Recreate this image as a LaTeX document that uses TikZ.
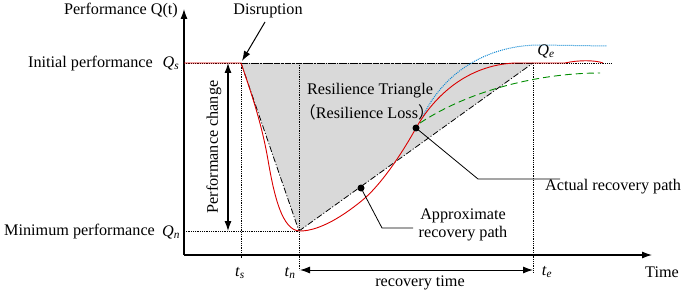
\documentclass[tikz,border=0pt]{standalone}
\usepackage{fontspec}
\setmainfont{Liberation Serif}
\newfontfamily\cjk{Noto Sans CJK SC}
\usetikzlibrary{arrows.meta}
\newcommand{\qlab}[2]{\textit{#1}\textsubscript{\textit{#2}}}
\begin{document}
\begin{tikzpicture}[x=1pt,y=-1pt,
  every node/.style={font=\fontsize{16.2}{18.5}\selectfont, inner sep=1pt},
  bigtip/.style={-{Latex[length=10pt,width=7pt]}},
  axisline/.style={line width=1.1pt, bigtip},
  dotline/.style={densely dotted, line width=0.8pt},
  dashdot/.style={line width=0.8pt, dash pattern=on 6pt off 2pt on 1pt off 2pt},
  redcurve/.style={line width=0.9pt, color=red!85!black},
  leader/.style={line width=0.8pt},
  dotmark/.style={circle, fill=black, inner sep=0pt, minimum size=7pt}
]
\useasboundingbox (0,0) rectangle (685,294);
% key coordinates
\coordinate (O) at (184,255);
\coordinate (ytop) at (184,9);
\coordinate (xend) at (652,255);
\coordinate (S) at (241,63);
\coordinate (N) at (299,231);
\coordinate (E) at (533,63);
\coordinate (QsL) at (184,63);
\coordinate (QsR) at (612,63);
\coordinate (QnL) at (184,231);
% triangle
\fill[gray!30] (S) -- (N) -- (E) -- cycle;
% guide lines
\draw[dotline] (QsL) -- (QsR);
\draw[dotline] (QnL) -- (N);
\draw[dotline] (S) -- (241,258);
\draw[dotline] (299,63) -- (299,270);
\draw[dotline] (E) -- (533,272);
\draw[dashdot] (S) -- (E);
\draw[dashdot] (S) -- (N);
\draw[dashdot] (N) -- (E);
% axes
\draw[line width=1.1pt] (ytop |- O) -- (O);
\draw[axisline] (O) -- (ytop);
\draw[axisline] (O) -- (xend);
% curves
\draw[color=cyan!70!blue, densely dotted, line width=1pt] (423,116) .. controls (445,70) and (490,45) .. (540,45) -- (607,46);
\draw[color=green!55!black, dash pattern=on 7pt off 4pt, line width=0.9pt] (420,123) .. controls (470,90) and (540,73) .. (600,73);
\draw[redcurve] (QsL) -- (S) .. controls (252,95) and (262,125) .. (268,160) .. controls (274,195) and (282,231) .. (300,231) .. controls (320,231) and (345,215) .. (365,198) .. controls (385,180) and (405,148) .. (416,128) .. controls (435,95) and (468,65) .. (515,63) -- (565,63) .. controls (578,60) and (595,60) .. (603,63);
% dots and leaders
\node[dotmark] (actdot) at (416,128) {};
\node[dotmark] (appdot) at (361,188) {};
\coordinate (actk) at (478,179);
\coordinate (actend) at (560,179);
\coordinate (appk) at (382,228);
\coordinate (append) at (413,228);
\draw[leader] (actdot.center) -- (actk) -- (actend);
\draw[leader] (appdot.center) -- (appk) -- (append);
% arrows
\coordinate (pcTop) at (228,63);
\coordinate (pcBot) at (228,231);
\draw[line width=1.1pt, {Latex[length=10pt,width=7pt]}-{Latex[length=10pt,width=7pt]}] (pcBot) -- (pcTop);
\coordinate (disA) at (265,22);
\draw[line width=1pt, bigtip] (disA) -- (242,61);
\coordinate (rtL) at (300,270);
\coordinate (rtR) at (533,270);
\draw[line width=1pt, {Latex[length=10pt,width=7pt]}-{Latex[length=10pt,width=7pt]}] (rtL) -- (rtR);
% labels
\node[anchor=east] (perfq) at (179,11) {Performance Q(t)};
\node (disr) at (268,11) {Disruption};
\node[anchor=east] (initp) at (154,64) {Initial performance};
\node (qs) at (171,63) {\qlab{Q}{s}};
\node[anchor=west] (minp) at (3,232) {Minimum performance};
\node (qn) at (171,232) {\qlab{Q}{n}};
\node[rotate=90] (pchange) at (214,147) {Performance change};
\node (ts) at (240,273) {\qlab{t}{s}};
\node (tn) at (290,273) {\qlab{t}{n}};
\node (te) at (547,272) {\qlab{t}{e}};
\node (time) at (662,272) {Time};
\node (rtime) at (420,283) {recovery time};
\node (rtri) at (370,91) {Resilience Triangle};
\node (rloss) at (367,112) {{\cjk （}Resilience Loss{\cjk ）}};
\node (qe) at (546,51) {\qlab{Q}{e}};
\node[anchor=west] (actlab) at (544,187) {Actual recovery path};
\node[align=center] (applab) at (463,225) {Approximate\\recovery path};
\end{tikzpicture}
\end{document}
